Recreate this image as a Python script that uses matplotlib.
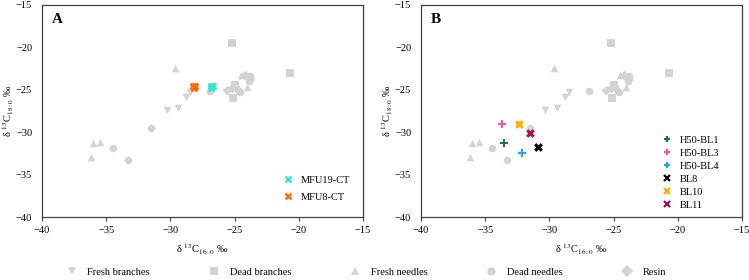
import matplotlib.pyplot as plt
from matplotlib.lines import Line2D

plt.rcParams["font.family"] = ["Liberation Serif", "DejaVu Serif"]
plt.rcParams["mathtext.fontset"] = "stix"
plt.rcParams["font.size"] = 7.5

GREY = "#d3d3d3"

# reference samples (same in both panels)
fresh_branches_x = [-30.3, -29.4, -28.8, -28.5]
fresh_branches_y = [-27.4, -27.1, -25.8, -25.2]
dead_branches_x = [-25.2, -20.7, -25.1, -25.0]
dead_branches_y = [-19.5, -23.0, -26.0, -24.4]
fresh_needles_x = [-29.6, -36.0, -35.5, -36.2, -24.5, -24.0]
fresh_needles_y = [-22.4, -31.3, -31.1, -32.9, -23.2, -24.7]
dead_needles_x = [-31.5, -34.5, -33.3, -26.9, -24.6, -23.8, -23.9]
dead_needles_y = [-29.5, -31.8, -33.3, -25.1, -25.2, -23.4, -24.0]
resin_x = [-25.6, -25.2, -25.0, -24.2, -23.8, -24.7]
resin_y = [-25.0, -24.8, -24.5, -23.2, -23.7, -25.0]

# panel A samples
mfu19_x = [-26.85, -26.7, -26.8]
mfu19_y = [-24.6, -24.5, -24.75]
mfu8_x = [-28.25, -28.1, -28.15]
mfu8_y = [-24.6, -24.5, -24.75]

# panel B samples
b_names = ["H50-BL1", "H50-BL3", "H50-BL4", "BL8", "BL10", "BL11"]
b_x = [-33.5, -33.7, -32.1, -30.9, -32.4, -31.5]
b_y = [-31.2, -29.0, -32.4, -31.7, -29.0, -30.1]
b_colors = ["#1b6f62", "#ff4fa6", "#1f9fff", "#000000", "#ffad00", "#a3124f"]
b_markers = ["P", "P", "P", "X", "X", "X"]

ref_groups = [
    ("Fresh branches", fresh_branches_x, fresh_branches_y, "v"),
    ("Dead branches", dead_branches_x, dead_branches_y, "s"),
    ("Fresh needles", fresh_needles_x, fresh_needles_y, "^"),
    ("Dead needles", dead_needles_x, dead_needles_y, "o"),
    ("Resin", resin_x, resin_y, "D"),
]

fig = plt.figure(figsize=(7.49, 2.8), dpi=100)
ax_a = fig.add_axes([0.056, 0.224, 0.4286, 0.7585])
ax_b = fig.add_axes([0.562, 0.224, 0.4286, 0.7585])


def draw_refs(ax):
    for label, xs, ys, m in ref_groups:
        ax.scatter(xs, ys, marker=m, s=30 if m != "D" else 24,
                   color=GREY, linewidths=0, zorder=2)


def style(ax, letter):
    ax.set_xlim(-40, -15)
    ax.set_ylim(-40, -15)
    ax.set_xticks([-40, -35, -30, -25, -20, -15])
    ax.set_yticks([-40, -35, -30, -25, -20, -15])
    ax.tick_params(axis="x", direction="out", length=3, width=0.8,
                   color="#404040", pad=3)
    ax.tick_params(axis="y", length=0, pad=7)
    for sp in ax.spines.values():
        sp.set_color("#404040")
        sp.set_linewidth(0.9)
    ax.set_xlabel(r"δ $^{13}$C$_{16:0}$ ‰", labelpad=5)
    ax.set_ylabel(r"δ $^{13}$C$_{18:0}$ ‰")
    ax.yaxis.set_label_coords(-0.082, 0.5)
    ax.text(0.03, 0.96, letter, transform=ax.transAxes, fontsize=11,
            fontweight="bold", va="top", ha="left")


draw_refs(ax_a)
ax_a.scatter(mfu19_x, mfu19_y, marker="X", s=32, color="#33e6d0",
             linewidths=0, zorder=3)
ax_a.scatter(mfu8_x, mfu8_y, marker="X", s=32, color="#ff6a0d",
             linewidths=0, zorder=3)
style(ax_a, "A")
handles_a = [
    Line2D([], [], marker="x", ls="", color="#33e6d0", ms=5, mew=1.8),
    Line2D([], [], marker="x", ls="", color="#ff6a0d", ms=5, mew=1.8),
]
ax_a.legend(handles_a, ["MFU19-CT", "MFU8-CT"], loc="upper left",
            bbox_to_anchor=(0.72, 0.24), frameon=False, handlelength=1,
            handletextpad=0.8, labelspacing=0.7)

draw_refs(ax_b)
for name, x, y, c, m in zip(b_names, b_x, b_y, b_colors, b_markers):
    ax_b.scatter([x], [y], marker=m, s=40, color=c, linewidths=0, zorder=3)
style(ax_b, "B")
handles_b = []
for c, m in zip(b_colors, b_markers):
    if m == "P":
        handles_b.append(Line2D([], [], marker="+", ls="", color=c, ms=5, mew=1.6))
    else:
        handles_b.append(Line2D([], [], marker="x", ls="", color=c, ms=5, mew=1.6))
ax_b.legend(handles_b, b_names, loc="upper left", bbox_to_anchor=(0.72, 0.43),
            frameon=False, handlelength=1, handletextpad=0.8, labelspacing=0.36)

ref_handles = [Line2D([], [], marker=m, ls="", color=GREY, ms=6, mew=0)
               for _, _, _, m in ref_groups]
fig.legend(ref_handles, [g[0] for g in ref_groups], loc="center",
           bbox_to_anchor=(0.489, 0.027), ncol=5, frameon=False,
           handlelength=1, handletextpad=1.0, columnspacing=5.65, fontsize=7.5)

fig.savefig("out.png", dpi=100)
